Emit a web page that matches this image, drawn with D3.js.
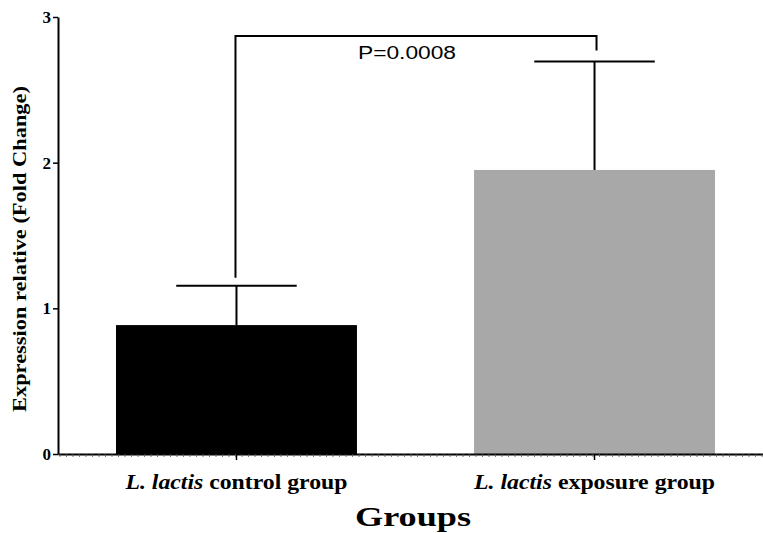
<!DOCTYPE html>
<html>
<head>
<meta charset="utf-8">
<script src="https://cdn.jsdelivr.net/npm/d3@7"></script>
<style>
  html, body { margin: 0; padding: 0; background: #fff; }
  svg { display: block; }
</style>
</head>
<body>
<svg id="chart" width="763" height="533"></svg>
<script>
const categories = ["control", "exposure"];
const categoryItalic = ["L. lactis", "L. lactis"];
const categoryRest = [" control group", " exposure group"];
const means = [0.885, 1.95];
const errors = [0.27, 0.745];
const barColors = ["#000000", "#a8a8a8"];
const yTicks = [0, 1, 2, 3];
const pLabel = "P=0.0008";
const bracketTop = 2.87;
const bracketLeftEnd = 1.21;
const bracketRightEnd = 2.77;

const svg = d3.select("#chart");
const W = 763, H = 533;
const serif = "'Liberation Serif', 'Times New Roman', serif";
const y = d3.scaleLinear().domain([0, 3]).range([454, 17]);
const x = d3.scaleBand().domain(categories).range([58, 773]).paddingInner(0.327).paddingOuter(0.162);

// bars
svg.selectAll("rect.bar").data(categories).enter().append("rect")
  .attr("x", d => x(d))
  .attr("y", (d, i) => y(means[i]))
  .attr("width", x.bandwidth())
  .attr("height", (d, i) => y(0) - y(means[i]))
  .attr("fill", (d, i) => barColors[i]);

// error bars
const capHalf = x.bandwidth() / 4;
categories.forEach((c, i) => {
  const cx = x(c) + x.bandwidth() / 2;
  svg.append("line").attr("x1", cx).attr("x2", cx)
    .attr("y1", y(means[i])).attr("y2", y(means[i] + errors[i]))
    .attr("stroke", "#000").attr("stroke-width", 2);
  svg.append("line").attr("x1", cx - capHalf).attr("x2", cx + capHalf)
    .attr("y1", y(means[i] + errors[i])).attr("y2", y(means[i] + errors[i]))
    .attr("stroke", "#000").attr("stroke-width", 2);
});

// y axis
const yAxis = d3.axisLeft(y).tickValues(yTicks).tickSize(5).tickSizeOuter(0).tickFormat(d3.format("d"));
const gy = svg.append("g").attr("transform", "translate(58,0)").call(yAxis);
gy.select(".domain").attr("stroke", "#000").attr("stroke-width", 2);
gy.selectAll(".tick line").attr("stroke", "#000").attr("stroke-width", 1.5);
gy.selectAll(".tick text").attr("font-family", serif)
  .attr("font-weight", "bold").attr("font-size", 17).attr("fill", "#000").attr("x", -7);

// x axis
const xAxis = d3.axisBottom(x).tickSize(6).tickSizeOuter(0).tickFormat("");
const gx = svg.append("g").attr("transform", "translate(0,454)").call(xAxis);
gx.select(".domain").attr("stroke", "#000").attr("stroke-width", 2);
gx.selectAll(".tick line").attr("stroke", "#000").attr("stroke-width", 1.5);
// tiny minor ticks
svg.append("g").selectAll("line").data(d3.range(60, W, 6.5)).enter().append("line")
  .attr("x1", d => d).attr("x2", d => d).attr("y1", 454).attr("y2", 457)
  .attr("stroke", "#555").attr("stroke-width", 0.8);

// category labels
const labelWidths = [222, 241];
categories.forEach((c, i) => {
  const cx = x(c) + x.bandwidth() / 2;
  const t = svg.append("text").attr("x", cx).attr("y", 489)
    .attr("text-anchor", "middle")
    .attr("textLength", labelWidths[i]).attr("lengthAdjust", "spacingAndGlyphs")
    .attr("font-family", serif)
    .attr("font-weight", "bold").attr("font-size", 21).attr("fill", "#000");
  t.append("tspan").attr("font-style", "italic").text(categoryItalic[i]);
  t.append("tspan").text(categoryRest[i]);
});

// axis titles
svg.append("text").attr("x", 413).attr("y", 526).attr("text-anchor", "middle")
  .attr("textLength", 116).attr("lengthAdjust", "spacingAndGlyphs")
  .attr("font-family", serif)
  .attr("font-weight", "bold").attr("font-size", 28).attr("fill", "#000").text("Groups");
svg.append("text").attr("transform", "translate(26,249) rotate(-90)").attr("text-anchor", "middle")
  .attr("textLength", 326).attr("lengthAdjust", "spacingAndGlyphs")
  .attr("font-family", serif)
  .attr("font-weight", "bold").attr("font-size", 19).attr("fill", "#000")
  .text("Expression relative (Fold Change)");

// significance bracket
const lx = x(categories[0]) + x.bandwidth() / 2 - 1;
const rx = x(categories[1]) + x.bandwidth() / 2 + 2;
svg.append("path")
  .attr("d", `M${lx},${y(bracketLeftEnd)} V${y(bracketTop)} H${rx} V${y(bracketRightEnd)}`)
  .attr("fill", "none").attr("stroke", "#000").attr("stroke-width", 2);
svg.append("text").attr("x", 407).attr("y", 59).attr("text-anchor", "middle")
  .attr("textLength", 98).attr("lengthAdjust", "spacingAndGlyphs")
  .attr("font-family", "'Liberation Sans', Arial, sans-serif")
  .attr("font-size", 18).attr("fill", "#000").text(pLabel);
</script>
</body>
</html>
